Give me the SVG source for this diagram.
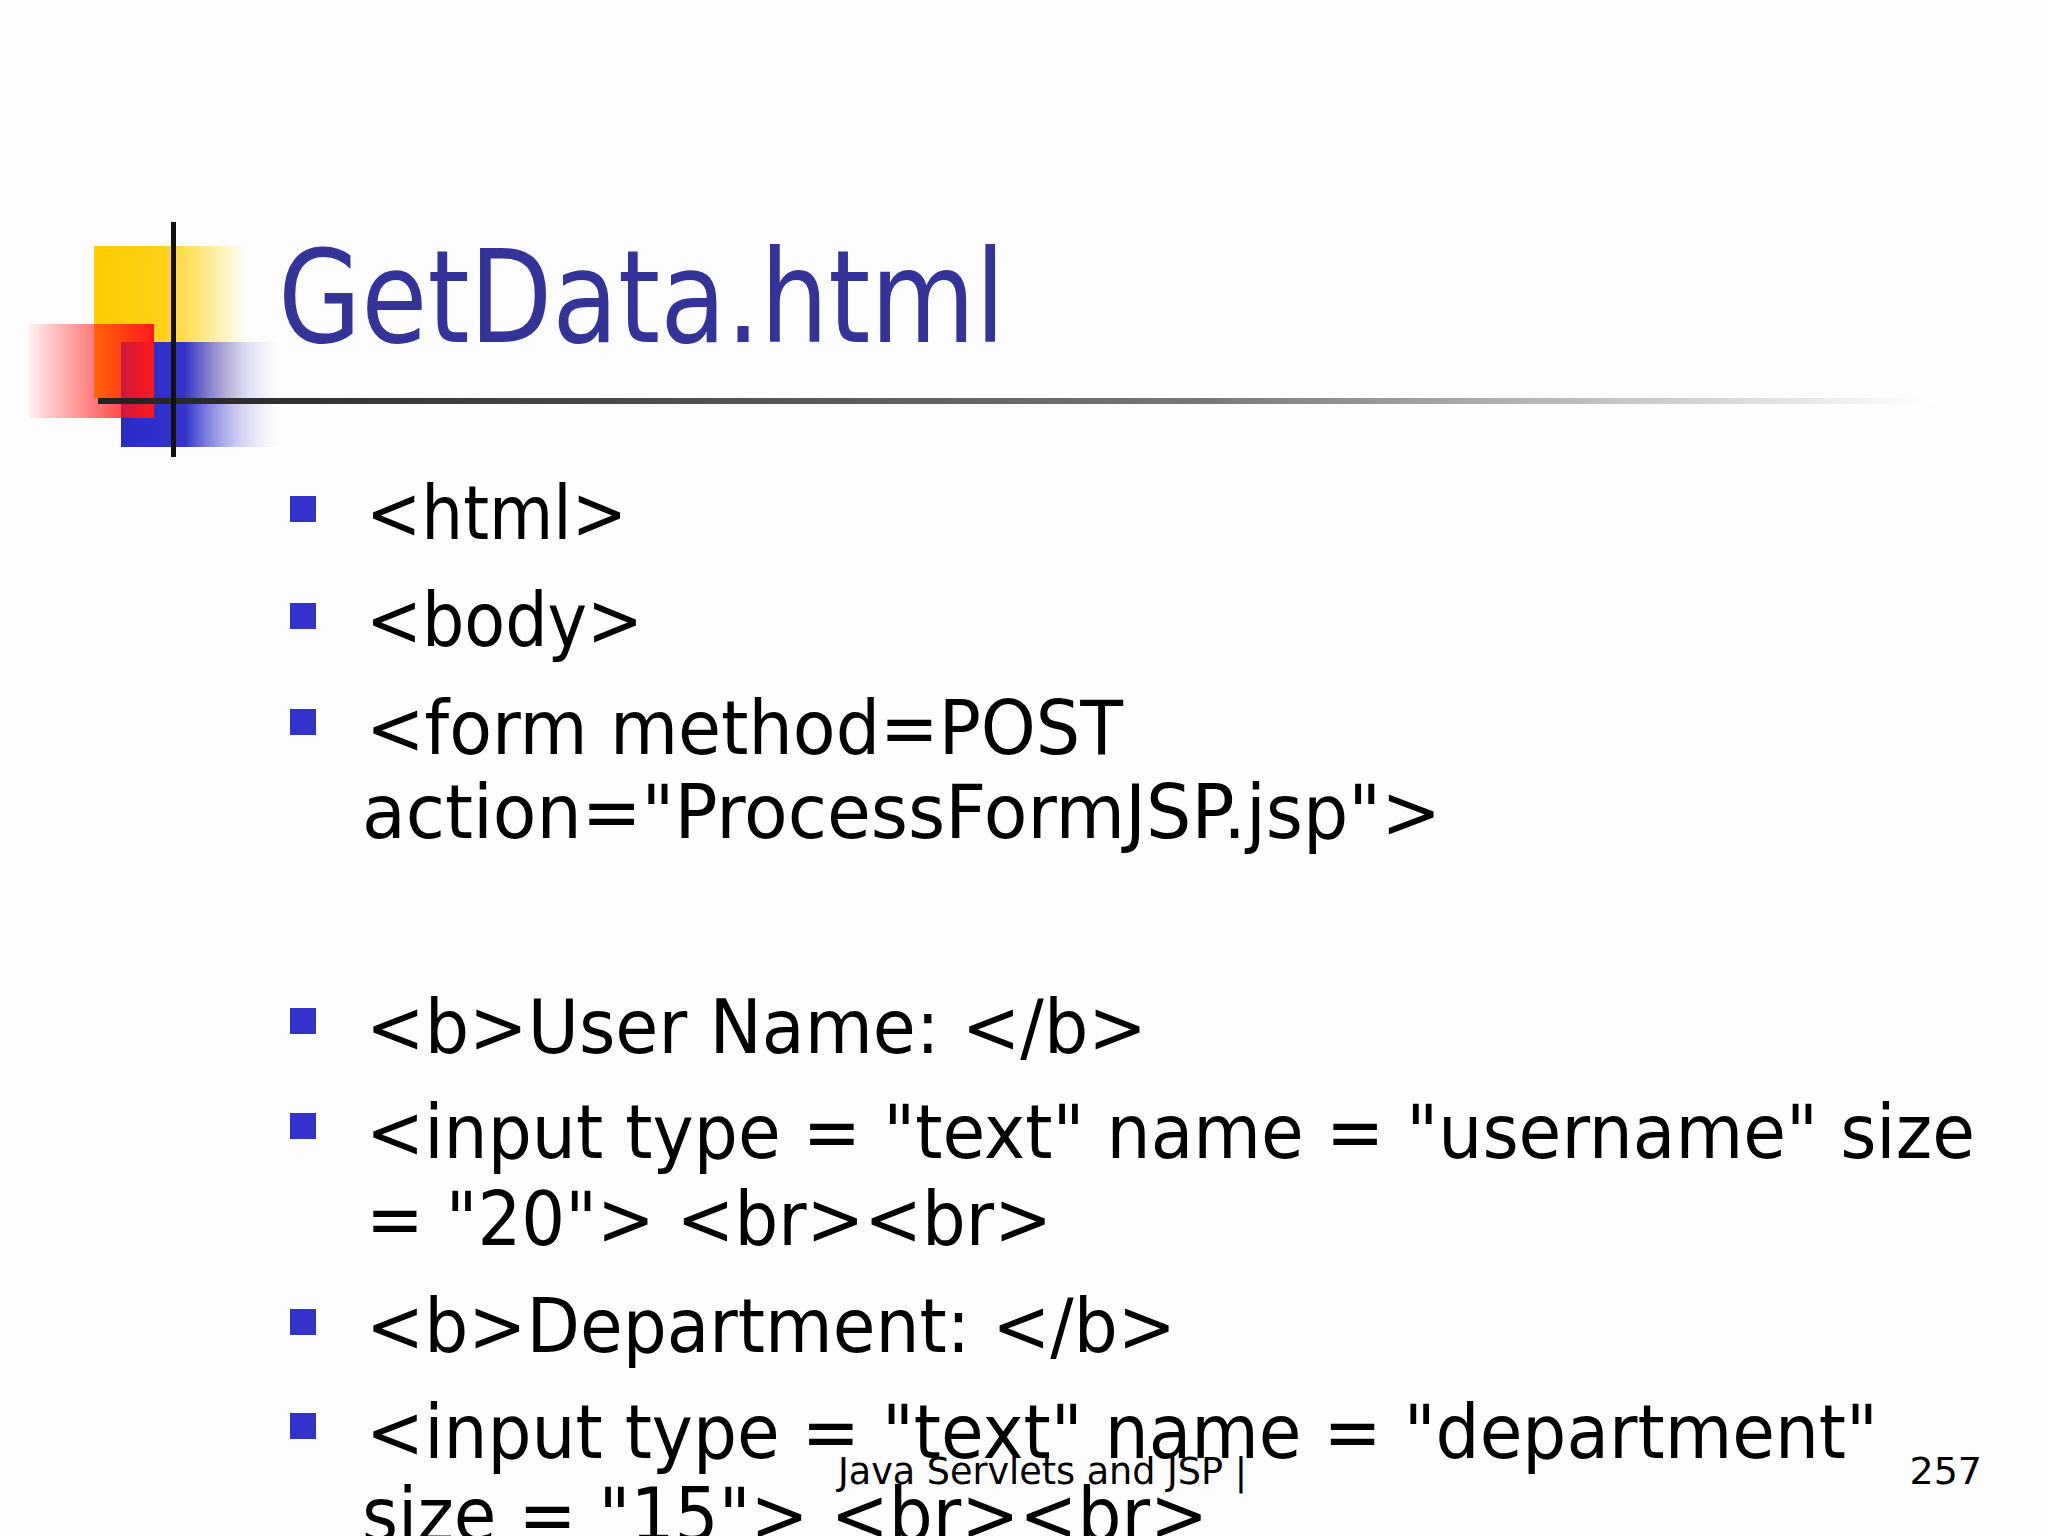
<svg xmlns="http://www.w3.org/2000/svg" width="2048" height="1536" viewBox="0 0 2048 1536">
<defs>
<linearGradient id="gy" x1="0" x2="1" y1="0" y2="0"><stop offset="0" stop-color="#ffcc00"/><stop offset="0.45" stop-color="#ffd21a"/><stop offset="1" stop-color="#ffffff"/></linearGradient>
<linearGradient id="gr" x1="0" x2="1" y1="0" y2="0"><stop offset="0" stop-color="#ff0000" stop-opacity="0.05"/><stop offset="1" stop-color="#ff1a1a"/></linearGradient>
<linearGradient id="gb" x1="0" x2="1" y1="0" y2="0"><stop offset="0" stop-color="#2a2ac8"/><stop offset="0.4" stop-color="#3333cc"/><stop offset="1" stop-color="#ffffff" stop-opacity="0.2"/></linearGradient>
<linearGradient id="gl" x1="0" x2="1" y1="0" y2="0"><stop offset="0" stop-color="#222"/><stop offset="0.6" stop-color="#777"/><stop offset="1" stop-color="#fff"/></linearGradient>
<style>
.t{font-family:"DejaVu Sans","Liberation Sans",sans-serif;font-size:74px;fill:#000}
.b{fill:#3333cc}
</style>
</defs>
<rect width="2048" height="1536" fill="#fdfdfd"/>
<g id="deco">
<rect x="94" y="246" width="154" height="152" fill="url(#gy)"/>
<rect x="121" y="342" width="160" height="105" fill="url(#gb)"/>
<rect x="29" y="324" width="125" height="94" fill="url(#gr)"/>
<rect x="98" y="398" width="1835" height="6" fill="url(#gl)"/>
<rect x="171" y="222" width="5" height="235" fill="#111"/>
</g>
<g id="title"><text x="278" y="342" font-family="DejaVu Sans,Liberation Sans,sans-serif" font-size="128" fill="#333399" textLength="727" lengthAdjust="spacingAndGlyphs">GetData.html</text></g>
<g id="bullets">
<rect class="b" x="290" y="496" width="26" height="26"/>
<rect class="b" x="290" y="603" width="26" height="26"/>
<rect class="b" x="290" y="709" width="26" height="26"/>
<rect class="b" x="290" y="1008" width="26" height="26"/>
<rect class="b" x="290" y="1113" width="26" height="26"/>
<rect class="b" x="290" y="1309" width="26" height="26"/>
<rect class="b" x="290" y="1413" width="26" height="26"/>
</g>
<g id="body">
<text class="t" x="366" y="539" textLength="261" lengthAdjust="spacingAndGlyphs">&lt;html&gt;</text>
<text class="t" x="366" y="646" textLength="277" lengthAdjust="spacingAndGlyphs">&lt;body&gt;</text>
<text class="t" x="366" y="754" textLength="757" lengthAdjust="spacingAndGlyphs">&lt;form method=POST</text>
<text class="t" x="362" y="838" textLength="1079" lengthAdjust="spacingAndGlyphs">action="ProcessFormJSP.jsp"&gt;</text>
<text class="t" x="366" y="1053" textLength="781" lengthAdjust="spacingAndGlyphs">&lt;b&gt;User Name: &lt;/b&gt;</text>
<text class="t" x="366" y="1158" textLength="1609" lengthAdjust="spacingAndGlyphs">&lt;input type = "text" name = "username" size</text>
<text class="t" x="366" y="1245" textLength="686" lengthAdjust="spacingAndGlyphs">= "20"&gt; &lt;br&gt;&lt;br&gt;</text>
<text class="t" x="366" y="1352" textLength="810" lengthAdjust="spacingAndGlyphs">&lt;b&gt;Department: &lt;/b&gt;</text>
<text class="t" x="366" y="1458" textLength="1512" lengthAdjust="spacingAndGlyphs">&lt;input type = "text" name = "department"</text>
<text class="t" x="362" y="1541" textLength="846" lengthAdjust="spacingAndGlyphs">size = "15"&gt; &lt;br&gt;&lt;br&gt;</text>
</g>
<g id="footer" font-family="DejaVu Sans,Liberation Sans,sans-serif" font-size="38" fill="#000">
<text x="838" y="1484" textLength="409" lengthAdjust="spacingAndGlyphs">Java Servlets and JSP |</text>
<text x="1982" y="1484" text-anchor="end">257</text>
</g>
</svg>
